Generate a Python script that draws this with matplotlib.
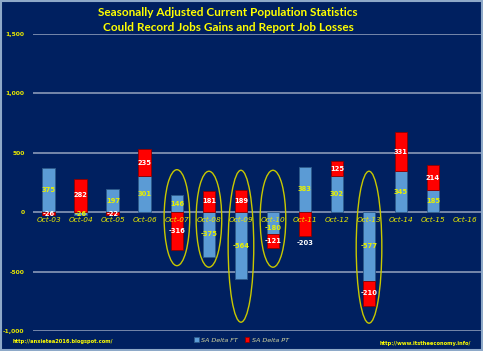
import matplotlib.pyplot as plt
import numpy as np
from matplotlib.patches import Ellipse, Rectangle

months = ['Oct-03', 'Oct-04', 'Oct-05', 'Oct-06', 'Oct-07', 'Oct-08', 'Oct-09',
          'Oct-10', 'Oct-11', 'Oct-12', 'Oct-13', 'Oct-14', 'Oct-15', 'Oct-16']
sa_delta_ft = [375, -26, 197, 301, 146, -375, -564, -180, 383, 302, -577, 345, 185, np.nan]
sa_delta_pt = [-26, 282, -22, 235, -316, 181, 189, -121, -203, 125, -210, 331, 214, np.nan]

# circled months: (index, top, bottom) in data units
circles = [(4, 358, -450), (5, 345, -463), (6, 353, -926), (7, 353, -463), (10, 345, -934)]

bg = '#002060'
yellow = '#FFFF00'
blue = '#5B9BD5'
red = '#FF0000'

ft = np.array(sa_delta_ft, dtype=float)
pt = np.array(sa_delta_pt, dtype=float)
x = np.arange(len(months))

ft_bottom = np.zeros(len(x))
pt_bottom = np.where(np.sign(pt) == np.sign(ft), ft, 0)
pt_bottom = np.nan_to_num(pt_bottom)

fig = plt.figure(figsize=(4.83, 3.51), dpi=100, facecolor=bg)
fig.patches.append(Rectangle((0.002, 0.003), 0.996, 0.994, transform=fig.transFigure,
                             fill=False, edgecolor='#8EA9C8', linewidth=1.5))
ax = fig.add_axes([0.068, 0.057, 0.928, 0.846])
ax.set_facecolor(bg)

ax.set_ylim(-1000, 1500)
ax.set_xlim(-0.5, len(x) - 0.5)
ax.set_yticks(np.arange(-1000, 1501, 500))
ax.yaxis.grid(True, color='#7F8FB0', linewidth=1.3)
ax.set_axisbelow(True)
for s in ax.spines.values():
    s.set_visible(False)
ax.tick_params(axis='y', length=0, labelsize=4.3, labelcolor='#E8E800', pad=6)
ax.set_yticklabels([f'{v:,}' for v in range(-1000, 1501, 500)], fontweight='bold')
ax.set_xticks([])

ax.bar(x, ft, 0.4, bottom=ft_bottom, color=blue, edgecolor='#2E5A8A', linewidth=0.6, label='SA Delta FT')
ax.bar(x, pt, 0.4, bottom=pt_bottom, color=red, edgecolor='#8B0000', linewidth=0.6, label='SA Delta PT')

for i in range(len(x)):
    if np.isnan(ft[i]):
        continue
    fy = ft_bottom[i] + ft[i] / 2
    if ft[i] == -180:
        fy = -130
    ax.text(x[i], fy, f'{int(ft[i])}', ha='center', va='center',
            fontsize=4.9, color='#E8F000', fontweight='bold')
    py = pt_bottom[i] + pt[i] / 2
    if pt[i] == -203:
        py = pt[i] - 55
    ax.text(x[i], py, f'{int(pt[i])}', ha='center', va='center',
            fontsize=4.9, color='white', fontweight='bold')

for i, m in enumerate(months):
    ax.text(x[i], -62, m, ha='center', va='center', fontsize=5.3, color='#E8E800', style='italic')

for i, top, bottom in circles:
    ax.add_patch(Ellipse((x[i], (top + bottom) / 2), 0.8, top - bottom, fill=False,
                         edgecolor='#C8C800', linewidth=1.0))

fig.text(0.472, 0.965, 'Seasonally Adjusted Current Population Statistics', ha='center', va='center',
         fontsize=8.5, color=yellow, fontweight='bold', family='Lato')
fig.text(0.472, 0.922, 'Could Record Jobs Gains and Report Job Losses', ha='center', va='center',
         fontsize=8.5, color=yellow, fontweight='bold', family='Lato')

fig.text(0.027, 0.028, 'http://anxietea2016.blogspot.com/', ha='left', va='center',
         fontsize=3.7, color=yellow, fontweight='bold')
fig.text(0.787, 0.022, 'http://www.itstheeconomy.info/', ha='left', va='center',
         fontsize=3.7, color=yellow, fontweight='bold')

leg = fig.legend(loc='center', bbox_to_anchor=(0.5, 0.031), ncol=2, frameon=False,
                 fontsize=4.6, handlelength=0.7, handleheight=0.7, columnspacing=1.0,
                 handletextpad=0.4)
for t in leg.get_texts():
    t.set_color('#D8D8A0')
    t.set_style('italic')

fig.savefig('out.png', dpi=100, facecolor=bg)
